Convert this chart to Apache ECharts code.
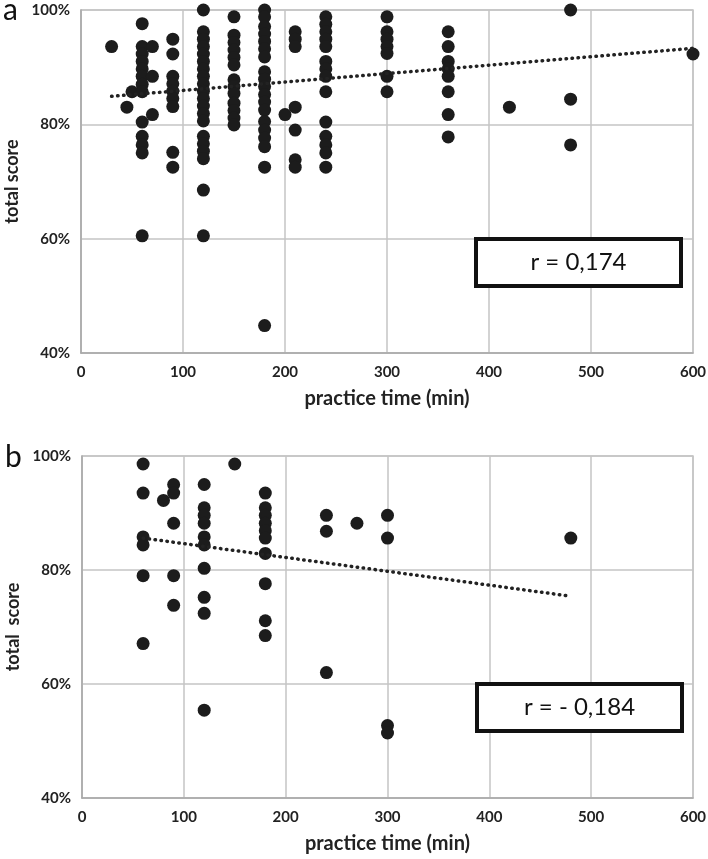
<!DOCTYPE html>
<html><head><meta charset="utf-8">
<script src="https://cdn.jsdelivr.net/npm/echarts@6/dist/echarts.min.js"></script>
<style>html,body{margin:0;padding:0;background:#fff}#c{width:708px;height:859px}</style>
</head><body><div id="c"></div>
<script>
// Panel a: practice time (min) per column and the total scores (%) read at each column
const aTimes = [30, 45, 50, 60, 70, 90, 120, 150, 180, 200, 210, 240, 300, 360, 420, 480, 600];
const aScores = [
  [93.6],
  [83.0],
  [85.7],
  [97.6, 93.6, 92.3, 91.0, 89.7, 88.4, 87.0, 85.7, 80.4, 77.9, 76.4, 75.0, 60.5],
  [93.6, 88.4, 81.7],
  [94.9, 92.3, 88.4, 87.1, 85.8, 84.5, 83.1, 75.1, 72.5],
  [100, 96.2, 94.9, 93.6, 92.3, 91.0, 89.7, 88.4, 87.1, 85.8, 84.5, 83.2, 81.9, 80.6, 77.9, 76.6, 75.3, 74.0, 68.5, 60.5],
  [98.8, 95.6, 94.3, 93.0, 91.7, 90.4, 87.8, 86.6, 85.4, 83.7, 82.4, 81.1, 79.9],
  [100, 98.8, 97.1, 95.8, 94.5, 93.2, 91.8, 89.2, 87.9, 86.6, 85.2, 83.9, 82.5, 80.5, 79.0, 77.6, 76.1, 72.5, 44.8],
  [81.7],
  [96.2, 94.9, 93.6, 83.0, 79.0, 73.8, 72.5],
  [98.8, 97.5, 96.2, 94.9, 93.6, 91.0, 89.7, 88.4, 85.7, 80.4, 77.9, 76.4, 75.0, 72.5],
  [98.8, 96.2, 94.9, 93.6, 92.4, 88.4, 85.7],
  [96.2, 93.6, 91.0, 89.7, 88.4, 85.7, 81.7, 77.8],
  [83.0],
  [100, 84.4, 76.4],
  [92.3]
];
const aTrendX = [30, 600];
const aTrendY = [84.9, 93.3];
const aLabel = 'r = 0,174';

// Panel b
const bTimes = [60, 80, 90, 120, 150, 180, 240, 270, 300, 480];
const bScores = [
  [98.6, 93.5, 85.8, 84.4, 79.0, 67.1],
  [92.2],
  [95.0, 93.5, 88.2, 79.0, 73.8],
  [95.0, 90.9, 89.6, 88.2, 85.8, 84.4, 80.3, 75.2, 72.4, 55.4],
  [98.6],
  [93.5, 90.9, 89.6, 88.2, 86.9, 85.6, 82.9, 77.6, 71.1, 68.5],
  [89.6, 86.8, 62.0],
  [88.2],
  [89.6, 85.6, 52.7, 51.4],
  [85.6]
];
const bTrendX = [60, 480];
const bTrendY = [85.6, 75.4];
const bLabel = 'r = - 0,184';

const xTicks = [0, 100, 200, 300, 400, 500, 600];
const yTicks = [40, 60, 80, 100];

function pts(times, scores) {
  const out = [];
  times.forEach((t, i) => scores[i].forEach(s => out.push([t, s])));
  return out;
}
function line(xs, ys) { return xs.map((x, i) => [x, ys[i]]); }

const FONT = 'Lato, "Open Sans", sans-serif';
const gridColor = '#c4c4c4';
function xAxis(idx) {
  return {
    type: 'value', gridIndex: idx, min: xTicks[0], max: xTicks[xTicks.length - 1], interval: 100,
    name: 'practice time (min)', nameLocation: 'middle', nameGap: 36,
    nameTextStyle: { fontFamily: FONT, fontWeight: 'bold', fontSize: 20, color: '#222' },
    axisLine: { show: true, lineStyle: { color: '#a8a8a8', width: 1.5 } },
    axisTick: { show: false },
    axisLabel: { fontFamily: FONT, fontWeight: 'bold', fontSize: 15, color: '#222', margin: 12 },
    splitLine: { show: true, lineStyle: { color: gridColor, width: 1.5 } }
  };
}
function yAxis(idx) {
  return {
    type: 'value', gridIndex: idx, min: yTicks[0], max: yTicks[yTicks.length - 1], interval: 20,
    name: idx === 0 ? 'total score' : 'total  score', nameLocation: 'middle', nameGap: 58,
    nameTextStyle: { fontFamily: FONT, fontWeight: 'bold', fontSize: 18, color: '#222' },
    axisLine: { show: true, lineStyle: { color: '#a8a8a8', width: 1.5 } },
    axisTick: { show: false },
    axisLabel: { fontFamily: FONT, fontWeight: 'bold', fontSize: 15, color: '#222', margin: 11, formatter: '{value}%' },
    splitLine: { show: true, lineStyle: { color: gridColor, width: 1.5 } }
  };
}
const trendStyle = { color: '#222', width: 3.5, type: [0.5, 5.5], cap: 'round' };

const chart = echarts.init(document.getElementById('c'), null, { renderer: 'canvas' });
chart.setOption({
  animation: false,
  backgroundColor: '#fff',
  grid: [
    { left: 81, top: 10, width: 612, height: 343, show: true, borderColor: gridColor, borderWidth: 1.5, containLabel: false, outerBoundsMode: 'none' },
    { left: 82, top: 456, width: 611, height: 342, show: true, borderColor: gridColor, borderWidth: 1.5, containLabel: false, outerBoundsMode: 'none' }
  ],
  xAxis: [xAxis(0), xAxis(1)],
  yAxis: [yAxis(0), yAxis(1)],
  series: [
    { type: 'scatter', xAxisIndex: 0, yAxisIndex: 0, data: pts(aTimes, aScores), symbolSize: 13, itemStyle: { color: '#1c1c1c', opacity: 1 }, z: 3 },
    { type: 'line', xAxisIndex: 0, yAxisIndex: 0, data: line(aTrendX, aTrendY), symbol: 'none', lineStyle: trendStyle, z: 4 },
    { type: 'scatter', xAxisIndex: 1, yAxisIndex: 1, data: pts(bTimes, bScores), symbolSize: 13, itemStyle: { color: '#1c1c1c', opacity: 1 }, z: 3 },
    { type: 'line', xAxisIndex: 1, yAxisIndex: 1, data: line(bTrendX, bTrendY), symbol: 'none', lineStyle: trendStyle, z: 4 }
  ],
  graphic: [
    { type: 'text', x: 3, y: 25, style: { text: 'a', font: '30px ' + FONT, fill: '#111', verticalAlign: 'bottom' } },
    { type: 'text', x: 5, y: 472, style: { text: 'b', font: '30px ' + FONT, fill: '#111', verticalAlign: 'bottom' } },
    { type: 'rect', shape: { x: 476, y: 239, width: 205, height: 47 }, style: { fill: '#fff', stroke: '#111', lineWidth: 4 }, z: 10 },
    { type: 'text', x: 578.5, y: 262.5, style: { text: aLabel, font: '24px ' + FONT, fill: '#111', align: 'center', verticalAlign: 'middle' }, z: 11 },
    { type: 'rect', shape: { x: 477, y: 684, width: 205, height: 47 }, style: { fill: '#fff', stroke: '#111', lineWidth: 4 }, z: 10 },
    { type: 'text', x: 579.5, y: 707.5, style: { text: bLabel, font: '24px ' + FONT, fill: '#111', align: 'center', verticalAlign: 'middle' }, z: 11 }
  ]
});
</script>
</body></html>
